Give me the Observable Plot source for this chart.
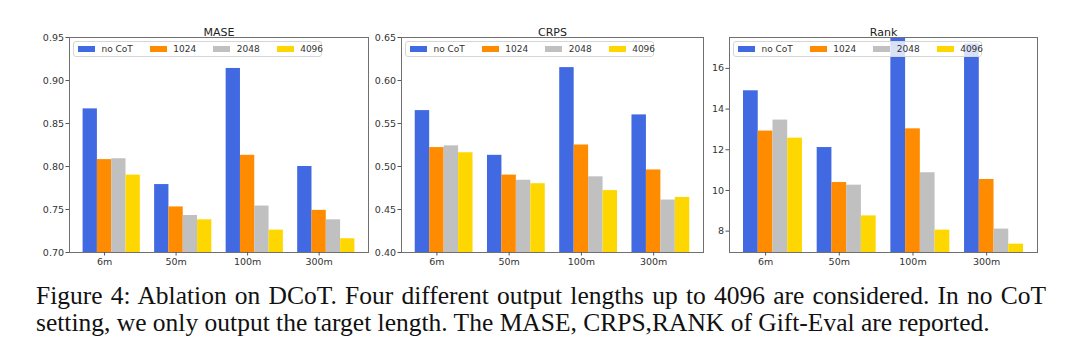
<!DOCTYPE html>
<html>
<head>
<meta charset="utf-8">
<script src="https://cdn.jsdelivr.net/npm/d3@7"></script>
<script src="https://cdn.jsdelivr.net/npm/@observablehq/plot@0.6"></script>
<style>
  body { margin: 0; background: #fff; }
  #fig { position: relative; width: 1080px; height: 351px; overflow: hidden; background: #fff; }
  .panel { position: absolute; top: 0; }
  .legend { position: absolute; display: flex; align-items: center; box-sizing: border-box;
    height: 16px; padding: 0 4px; border: 1px solid #d6d6d6; border-radius: 3px; white-space: nowrap;
    background: rgba(255,255,255,0.8); font-family: "DejaVu Sans"; font-size: 9px; color: #333; }
  .legend .item { display: flex; align-items: center; white-space: nowrap; flex: none; }
  .legend .sw { width: 17px; height: 6px; margin-right: 6.5px; flex: none; }
  .caption { position: absolute; left: 36px; top: 282px; width: 1010px; font-family: "Liberation Serif";
    font-size: 25.5px; line-height: 27px; color: #111; text-align: justify; text-align-last: left; }
</style>
</head>
<body>
<div id="fig"></div>
<script>
const categories = ["6m", "50m", "100m", "300m"];
const seriesNames = ["no CoT", "1024", "2048", "4096"];
const seriesColors = ["#4169E1", "#FF8C00", "#C0C0C0", "#FFD700"];

// values per series (rows) for each category (columns)
const maseValues = [
  [0.867, 0.779, 0.914, 0.800],
  [0.808, 0.753, 0.813, 0.749],
  [0.809, 0.743, 0.754, 0.738],
  [0.790, 0.738, 0.726, 0.716]
];
const crpsValues = [
  [0.565, 0.513, 0.615, 0.560],
  [0.522, 0.490, 0.525, 0.496],
  [0.524, 0.484, 0.488, 0.461],
  [0.516, 0.480, 0.472, 0.464]
];
const rankValues = [
  [14.90, 12.11, 17.80, 17.20],
  [12.92, 10.39, 13.03, 10.54],
  [13.46, 10.26, 10.87, 8.10],
  [12.57, 8.75, 8.05, 7.36]
];

const maseTicks = [0.70, 0.75, 0.80, 0.85, 0.90, 0.95];
const crpsTicks = [0.40, 0.45, 0.50, 0.55, 0.60, 0.65];
const rankTicks = [8, 10, 12, 14, 16];

const barWidth = 0.2;

const panels = [
  {title: "MASE", values: maseValues, domain: [0.70, 0.95], ticks: maseTicks, fmt: d3.format(".2f"), left: 69, right: 368},
  {title: "CRPS", values: crpsValues, domain: [0.40, 0.65], ticks: crpsTicks, fmt: d3.format(".2f"), left: 401, right: 703},
  {title: "Rank", values: rankValues, domain: [6.95, 17.52], ticks: rankTicks, fmt: d3.format("d"), left: 729, right: 1037}
];

const fig = document.getElementById("fig");
const marginLeft = 40, marginRight = 6, marginTop = 37, marginBottom = 24;

for (const p of panels) {
  const rows = [];
  p.values.forEach((vals, si) => vals.forEach((v, ci) => rows.push({ci, si, cat: categories[ci], series: seriesNames[si], value: v})));
  const chart = Plot.plot({
    width: marginLeft + (p.right - p.left) + marginRight,
    height: marginTop + 215 + marginBottom,
    marginLeft, marginRight, marginTop, marginBottom,
    style: {fontFamily: "DejaVu Sans", fontSize: "9.5px", color: "#333", background: "transparent"},
    x: {type: "linear", domain: [-0.49, 3.69], axis: null},
    y: {domain: p.domain, axis: null},
    color: {domain: seriesNames, range: seriesColors},
    marks: [
      Plot.rectY(rows, {
        x1: d => d.ci + (d.si - 1.5) * barWidth,
        x2: d => d.ci + (d.si - 0.5) * barWidth,
        y1: 0, y2: "value", fill: "series", clip: true, inset: 0
      }),
      Plot.frame({stroke: "#707070", strokeWidth: 1}),
      Plot.axisY(p.ticks, {tickFormat: p.fmt, tickSize: 3.5, tickPadding: 2, stroke: "#555", label: null}),
      Plot.axisX([0, 1, 2, 3], {tickFormat: i => categories[i], tickSize: 3.5, tickPadding: 2, stroke: "#555", label: null}),
      Plot.text([p.title], {frameAnchor: "top", dy: -9, fontSize: 11, fill: "#222"})
    ]
  });
  chart.classList.add("panel");
  chart.style.left = (p.left - marginLeft) + "px";
  fig.appendChild(chart);

  const lg = document.createElement("div");
  lg.className = "legend";
  lg.style.left = (p.left + 4) + "px";
  lg.style.top = (marginTop + 4) + "px";
  lg.style.width = "249px";
  seriesNames.forEach((name, i) => {
    const it = document.createElement("div");
    it.className = "item";
    it.style.marginRight = i < seriesNames.length - 1 ? "17px" : "0";
    const sw = document.createElement("span");
    sw.className = "sw";
    sw.style.background = seriesColors[i];
    const tx = document.createElement("span");
    tx.textContent = name;
    it.appendChild(sw); it.appendChild(tx);
    lg.appendChild(it);
  });
  fig.appendChild(lg);
}

const cap = document.createElement("div");
cap.className = "caption";
cap.textContent = "Figure 4: Ablation on DCoT. Four different output lengths up to 4096 are considered. In no CoT setting, we only output the target length. The MASE, CRPS,RANK of Gift-Eval are reported.";
fig.appendChild(cap);
</script>
</body>
</html>
